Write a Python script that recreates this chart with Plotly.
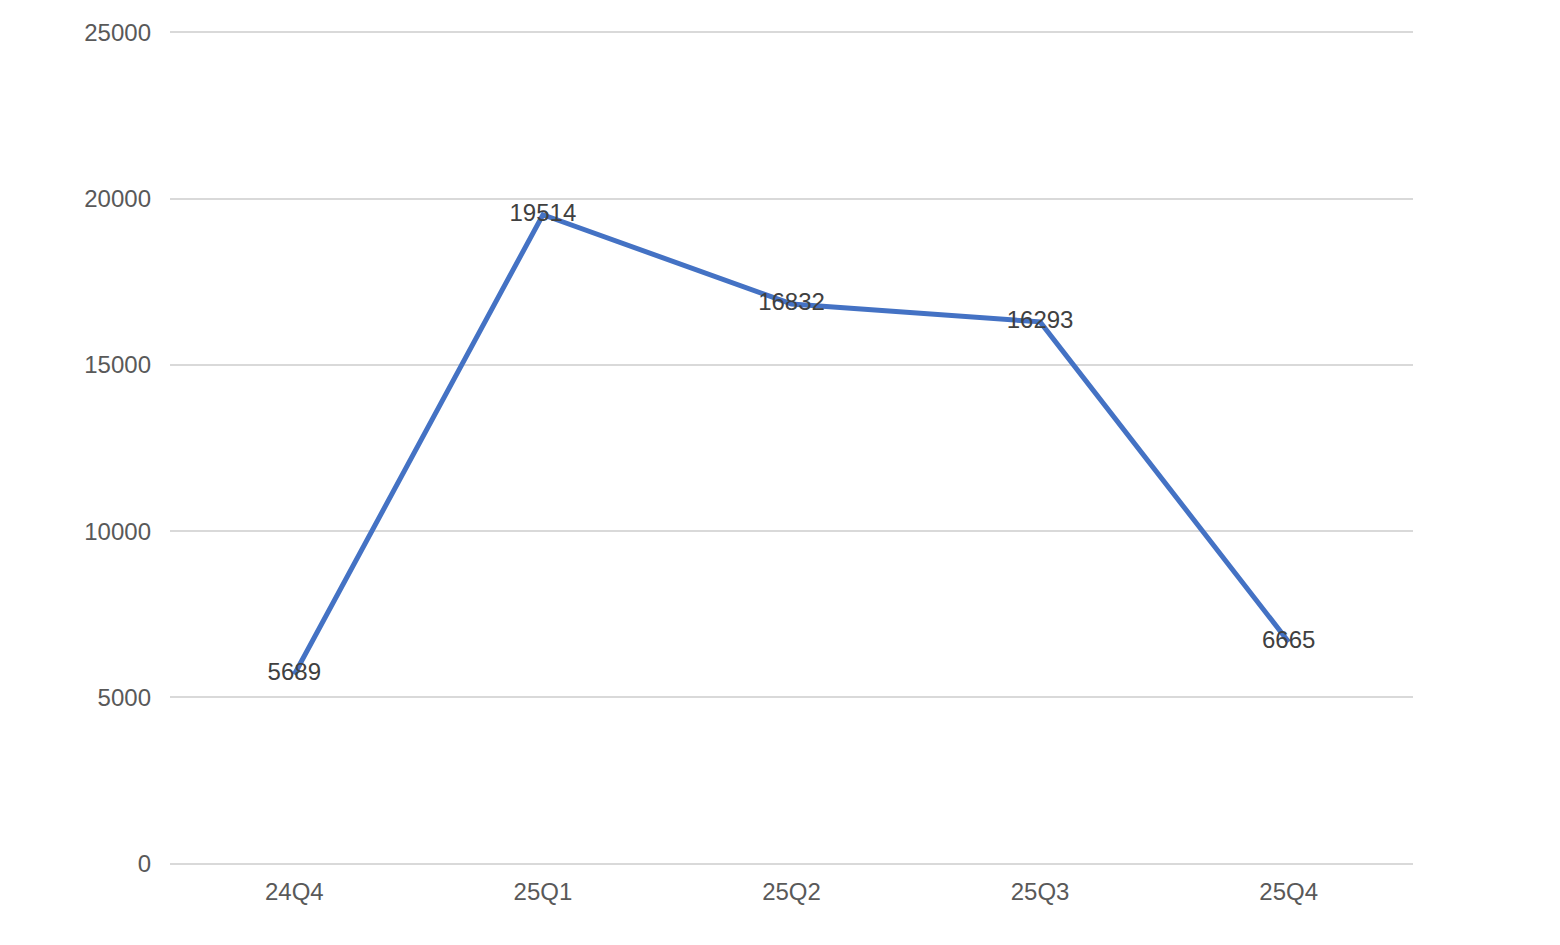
import plotly.graph_objects as go

categories = ["24Q4", "25Q1", "25Q2", "25Q3", "25Q4"]
values = [5689, 19514, 16832, 16293, 6665]
y_ticks = [0, 5000, 10000, 15000, 20000, 25000]

fig = go.Figure()
fig.add_trace(go.Scatter(
    x=categories, y=values, mode="lines+text",
    line=dict(color="#4472C4", width=5),
    text=[str(v) for v in values], textposition="middle center",
    textfont=dict(family="Liberation Sans, Arial, sans-serif", size=24, color="#404040"),
    cliponaxis=False, showlegend=False,
))
fig.update_layout(
    width=1560, height=945,
    margin=dict(l=162, r=155, t=23, b=88),
    paper_bgcolor="white", plot_bgcolor="white",
    font=dict(family="Liberation Sans, Arial, sans-serif", size=24, color="#595959"),
)
fig.update_xaxes(type="category", range=[-0.5, 4.5], showgrid=False, showline=False,
                 ticks="", ticklabelstandoff=10, zeroline=False)
fig.update_yaxes(range=[-40, 25040], tickvals=y_ticks, ticktext=[str(t) for t in y_ticks],
                 showgrid=True, gridcolor="#d9d9d9", gridwidth=1.5, zeroline=False,
                 showline=False, ticks="", ticklabelstandoff=18)
fig.write_html("out.html")
